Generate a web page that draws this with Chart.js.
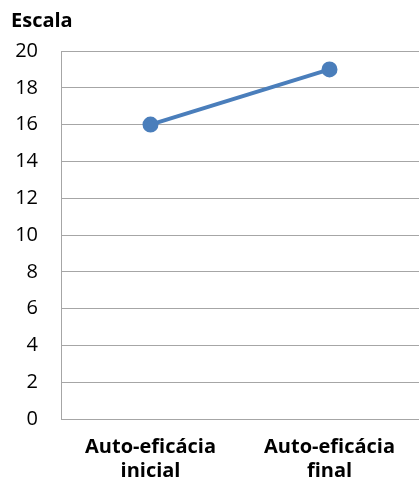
<!DOCTYPE html>
<html>
<head>
<meta charset="utf-8">
<script src="https://cdn.jsdelivr.net/npm/chart.js@4"></script>
<style>
  html, body { margin: 0; padding: 0; background: #fff; }
  #wrap { width: 419px; height: 481px; }
</style>
</head>
<body>
<div id="wrap"><canvas id="c" width="419" height="481"></canvas></div>
<script>
// Scores on the self-efficacy scale, before and after
const categories = [["Auto-eficácia", "inicial"], ["Auto-eficácia", "final"]];
const scores = [16, 19];
const yTicks = [0, 2, 4, 6, 8, 10, 12, 14, 16, 18, 20];
const axisTitle = "Escala";

const FONT = "'Open Sans', sans-serif";
const BLUE = "#4a7ebb";
const GRID = "#a6a6a6";

new Chart(document.getElementById("c"), {
  type: "line",
  data: {
    labels: categories,
    datasets: [{
      data: scores,
      borderColor: BLUE,
      backgroundColor: BLUE,
      borderWidth: 4,
      pointRadius: 6,
      pointHoverRadius: 6,
      pointBackgroundColor: BLUE,
      pointBorderColor: BLUE,
      tension: 0
    }]
  },
  options: {
    responsive: false,
    animation: false,
    devicePixelRatio: 1,
    // plot area runs slightly past the right edge of the canvas
    layout: { autoPadding: false, padding: { left: 11, right: -4, top: 0, bottom: 0 } },
    plugins: {
      legend: { display: false },
      tooltip: { enabled: false },
      title: {
        display: true,
        text: axisTitle,
        align: "start",
        color: "#000",
        font: { family: FONT, size: 20, weight: "bold", lineHeight: 1.2 },
        padding: { top: 9, bottom: 18 }
      }
    },
    scales: {
      x: {
        type: "category",
        offset: true,
        grid: { display: false, drawTicks: false },
        border: { display: true, color: GRID, width: 1 },
        ticks: {
          color: "#000",
          font: { family: FONT, size: 20, weight: "bold", lineHeight: "24px" },
          padding: 16,
          maxRotation: 0,
          autoSkip: false
        },
        afterFit: (s) => { s.height = 62; s.paddingLeft = 0; s.paddingRight = 0; }
      },
      y: {
        min: 0,
        max: 20,
        afterBuildTicks: (s) => { s.ticks = yTicks.map(v => ({ value: v })); },
        grid: { color: GRID, lineWidth: 1, drawTicks: false },
        border: { display: true, color: GRID, width: 1 },
        ticks: {
          color: "#000",
          font: { family: FONT, size: 20 },
          padding: 23
        },
        afterFit: (s) => { s.width = 50; }
      }
    }
  }
});
</script>
</body>
</html>
